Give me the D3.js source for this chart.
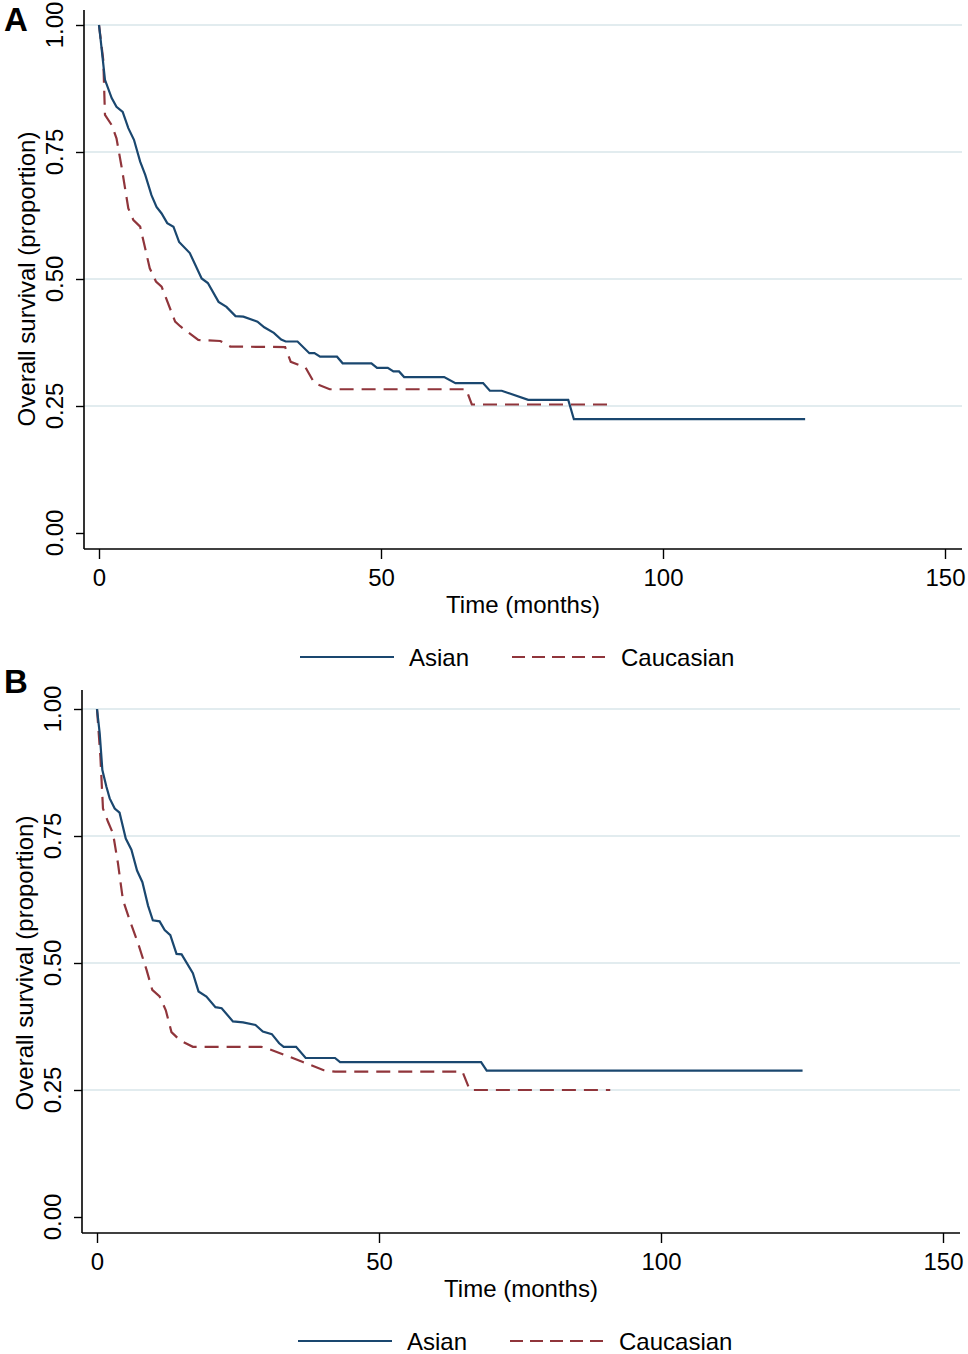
<!DOCTYPE html>
<html>
<head>
<meta charset="utf-8">
<script src="https://cdn.jsdelivr.net/npm/d3@7/dist/d3.min.js"></script>
<style>
  html, body { margin: 0; padding: 0; background: #fff; }
  svg { display: block; }
  text { font-family: "Liberation Sans", Arial, Helvetica, sans-serif; fill: #000; }
</style>
</head>
<body>
<svg id="chart" width="968" height="1354"></svg>
<script>
// ---- Data ----
const xTicks = [0, 50, 100, 150];
const yTicks = [0, 0.25, 0.5, 0.75, 1];
const yTickLabels = ["0.00", "0.25", "0.50", "0.75", "1.00"];
const seriesNames = ["Asian", "Caucasian"];
const panelLabels = ["A", "B"];
const xTitle = "Time (months)";
const yTitle = "Overall survival (proportion)";

// Panel A - Asian
const asianA_t = [0, 0.3, 1.06, 2.25, 3.1, 4.2, 5.2, 6.2, 7.3, 8.2, 9.3, 10.2, 11.1, 12.1, 13.2, 14.2, 16.1, 18.2, 19.3, 21.2, 22.6, 24.2, 25.6, 28.1, 29.3, 31.0, 32.3, 33.1, 35.2, 37.3, 38.2, 39.2, 42.2, 43.2, 48.3, 49.3, 51.2, 52.2, 53.2, 54.1, 61.2, 63.2, 68.1, 69.3, 71.4, 76.1, 83.2, 84.2, 125.2];
const asianA_s = [1.0, 0.97, 0.892, 0.856, 0.839, 0.829, 0.797, 0.774, 0.731, 0.705, 0.665, 0.642, 0.629, 0.610, 0.603, 0.573, 0.551, 0.501, 0.492, 0.455, 0.445, 0.427, 0.426, 0.416, 0.405, 0.394, 0.381, 0.377, 0.377, 0.354, 0.354, 0.347, 0.347, 0.334, 0.334, 0.325, 0.325, 0.318, 0.318, 0.307, 0.307, 0.295, 0.295, 0.280, 0.280, 0.262, 0.262, 0.224, 0.224];
// Panel A - Caucasian
const cauA_t = [0, 0.76, 1.06, 2.25, 3.1, 4.0, 5.2, 6.1, 7.3, 9.0, 10.1, 11.1, 13.5, 14.4, 17.6, 21.5, 23.3, 33.0, 34.0, 36.6, 38.2, 40.9, 65.1, 66.1, 91.0];
const cauA_s = [1.0, 0.931, 0.823, 0.803, 0.777, 0.721, 0.639, 0.616, 0.603, 0.521, 0.495, 0.485, 0.416, 0.407, 0.380, 0.378, 0.367, 0.366, 0.337, 0.326, 0.295, 0.283, 0.283, 0.253, 0.253];

// Panel B - Asian
const asianB_t = [0, 0.48, 0.95, 1.67, 2.25, 3.14, 4.0, 5.1, 6.1, 7.1, 8.05, 9.05, 9.9, 11.1, 12.0, 13.0, 14.1, 15.0, 17.0, 18.0, 19.4, 21.0, 22.1, 24.1, 25.9, 28.1, 29.4, 31.0, 32.3, 33.1, 35.3, 37.0, 42.2, 43.1, 68.1, 69.1, 125.1];
const asianB_s = [1.0, 0.952, 0.880, 0.847, 0.824, 0.804, 0.796, 0.745, 0.723, 0.682, 0.659, 0.613, 0.584, 0.582, 0.565, 0.555, 0.518, 0.517, 0.480, 0.444, 0.434, 0.413, 0.411, 0.385, 0.383, 0.378, 0.365, 0.360, 0.342, 0.335, 0.335, 0.313, 0.313, 0.305, 0.305, 0.288, 0.288];
// Panel B - Caucasian
const cauB_t = [0, 0.6, 1.06, 1.95, 2.84, 3.72, 4.6, 5.8, 7.3, 8.8, 9.8, 11.1, 12.2, 13.2, 14.7, 17.0, 29.1, 30.6, 33.5, 36.5, 40.2, 42.2, 64.8, 66.1, 91.0];
const cauB_s = [1.0, 0.906, 0.804, 0.778, 0.755, 0.696, 0.624, 0.584, 0.538, 0.486, 0.447, 0.434, 0.407, 0.364, 0.348, 0.335, 0.335, 0.330, 0.318, 0.305, 0.289, 0.286, 0.286, 0.250, 0.250];

// ---- Styles ----
const colAsian = "#1a476f";
const colCau = "#90353b";
const gridCol = "#e2ecef";

const svg = d3.select("#chart");

const panels = [
  { label: panelLabels[0], asian: [asianA_t, asianA_s], cau: [cauA_t, cauA_s],
    x0: 99, x1: 945, yTop: 25, yBot: 533, axX: 84, axY: 549, axTop: 10, axRight: 962, labelY: 31,
    yLabX: 63, yTitleX: 35 },
  { label: panelLabels[1], asian: [asianB_t, asianB_s], cau: [cauB_t, cauB_s],
    x0: 97, x1: 943, yTop: 709, yBot: 1217, axX: 82, axY: 1233, axTop: 690, axRight: 960, labelY: 693,
    yLabX: 61, yTitleX: 33 }
];

panels.forEach(p => {
  const g = svg.append("g");
  const x = d3.scaleLinear().domain([0, 150]).range([p.x0, p.x1]);
  const y = d3.scaleLinear().domain([0, 1]).range([p.yBot, p.yTop]);

  // gridlines
  g.selectAll("line.grid").data(yTicks.filter(v => v > 0)).enter().append("line")
    .attr("x1", p.axX).attr("x2", p.axRight)
    .attr("y1", d => y(d)).attr("y2", d => y(d))
    .attr("stroke", gridCol).attr("stroke-width", 1.8);

  // y axis
  const yAxis = d3.axisLeft(y).tickValues(yTicks).tickSize(8).tickFormat((d, i) => yTickLabels[i]);
  const ya = g.append("g").attr("transform", `translate(${p.axX},0)`).call(yAxis);
  ya.select(".domain").remove();
  ya.selectAll(".tick line").attr("stroke", "#000").attr("stroke-width", 1.4);
  ya.selectAll(".tick text").remove();
  g.append("line").attr("x1", p.axX).attr("x2", p.axX).attr("y1", p.axTop).attr("y2", p.axY)
    .attr("stroke", "#000").attr("stroke-width", 1.6);
  g.selectAll("text.ylab").data(yTicks).enter().append("text")
    .attr("transform", (d) => `translate(${p.yLabX},${y(d)}) rotate(-90)`)
    .attr("text-anchor", "middle").attr("font-size", 24)
    .text((d, i) => yTickLabels[i]);
  g.append("text")
    .attr("transform", `translate(${p.yTitleX},${y(0.5)}) rotate(-90)`)
    .attr("text-anchor", "middle").attr("font-size", 24).text(yTitle);

  // x axis
  const xAxis = d3.axisBottom(x).tickValues(xTicks).tickSize(10).tickFormat(d3.format("d"));
  const xa = g.append("g").attr("transform", `translate(0,${p.axY})`).call(xAxis);
  xa.select(".domain").remove();
  xa.selectAll(".tick line").attr("stroke", "#000").attr("stroke-width", 1.4);
  xa.selectAll(".tick text").attr("font-size", 24).attr("font-family", '"Liberation Sans", Arial, sans-serif')
    .attr("fill", "#000").attr("dy", 0).attr("y", 37);
  g.append("line").attr("x1", p.axX).attr("x2", p.axRight).attr("y1", p.axY).attr("y2", p.axY)
    .attr("stroke", "#000").attr("stroke-width", 1.6);
  g.append("text").attr("x", (p.axX + p.axRight) / 2).attr("y", p.axY + 64)
    .attr("text-anchor", "middle").attr("font-size", 24).text(xTitle);

  // curves
  const line = d3.line().x(d => x(d[0])).y(d => y(d[1])).curve(d3.curveLinear);
  const asianPts = p.asian[0].map((t, i) => [t, p.asian[1][i]]);
  const cauPts = p.cau[0].map((t, i) => [t, p.cau[1][i]]);
  g.append("path").datum(cauPts).attr("d", line).attr("fill", "none")
    .attr("stroke", colCau).attr("stroke-width", 2.2).attr("stroke-dasharray", "14,8");
  g.append("path").datum(asianPts).attr("d", line).attr("fill", "none")
    .attr("stroke", colAsian).attr("stroke-width", 2.2);

  // legend
  const ly = p.axY + 108;
  const lx = p.x0 + 201;
  g.append("line").attr("x1", lx).attr("x2", lx + 94).attr("y1", ly).attr("y2", ly)
    .attr("stroke", colAsian).attr("stroke-width", 2.2);
  g.append("text").attr("x", lx + 109).attr("y", p.axY + 117).attr("font-size", 24).text(seriesNames[0]);
  g.append("line").attr("x1", lx + 212).attr("x2", lx + 306).attr("y1", ly).attr("y2", ly)
    .attr("stroke", colCau).attr("stroke-width", 2.2).attr("stroke-dasharray", "13,7");
  g.append("text").attr("x", lx + 321).attr("y", p.axY + 117).attr("font-size", 24).text(seriesNames[1]);

  // panel label
  g.append("text").attr("x", 4).attr("y", p.labelY).attr("font-size", 33).attr("font-weight", "bold").text(p.label);
});
</script>
</body>
</html>
